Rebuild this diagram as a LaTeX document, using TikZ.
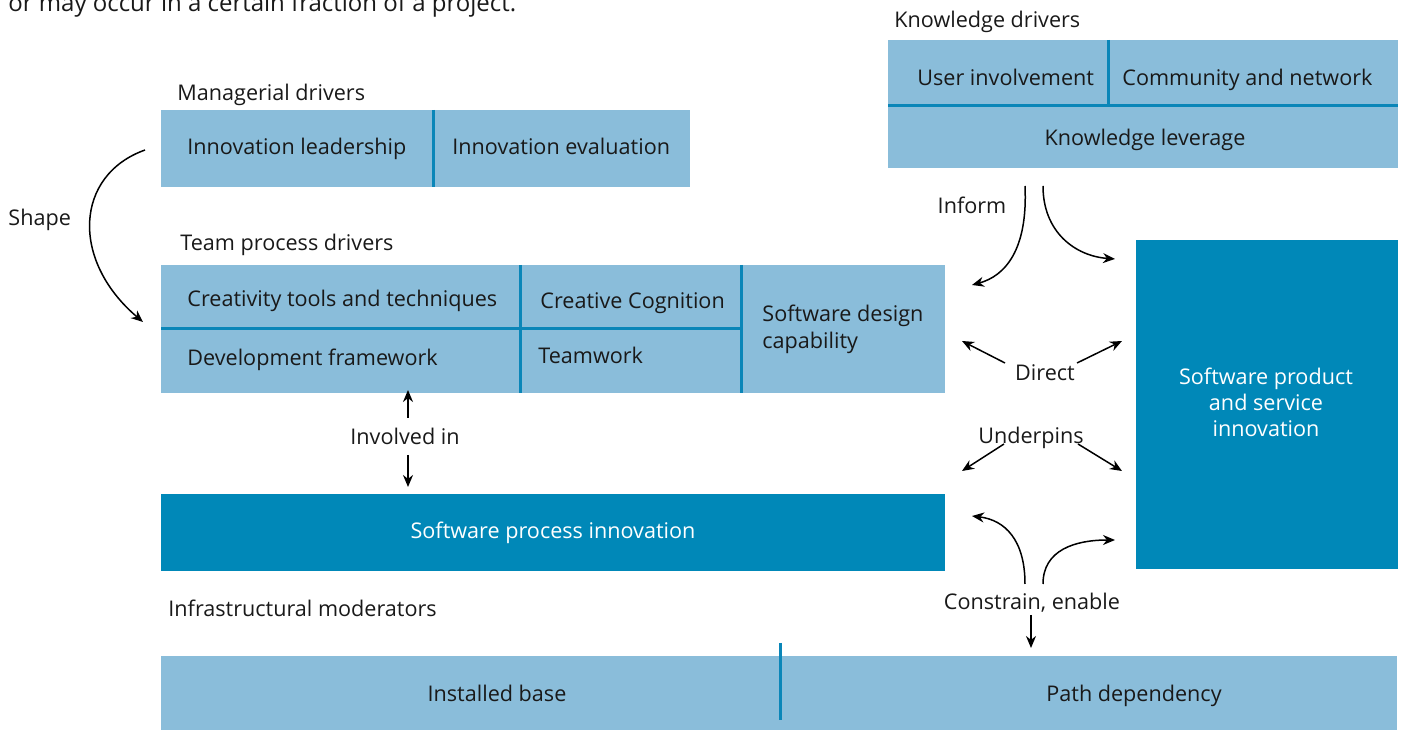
\documentclass[tikz,border=0pt]{standalone}
\usepackage{fontspec}
\setmainfont{Open Sans}
\usetikzlibrary{arrows.meta}
\definecolor{cellblue}{HTML}{8ABDDA}
\definecolor{deepblue}{HTML}{0088B8}
\definecolor{rule}{HTML}{0A86B8}

\begin{document}
\begin{tikzpicture}[x=0.5pt,y=-0.5pt,
  font=\fontsize{10.8}{13}\selectfont,
  panel/.style={fill=cellblue},
  darkpanel/.style={fill=deepblue},
  divider/.style={draw=rule,line width=1.5pt},
  textline/.style={inner sep=0pt,text height=7.7pt,text depth=0pt},
  txt/.style={textline,anchor=west,text=black!90},
  ctxt/.style={textline,text=black!90},
  wtxt/.style={textline,text=white,align=center},
  link/.style={line width=0.75pt,-{Stealth[length=6pt,width=5pt]}}]

\useasboundingbox (0,0) rectangle (1405,731);

% running text of the page above
\node[inner sep=0pt,anchor=base west,text=black!90,font=\fontsize{12}{14}\selectfont] (caption) at (8,12) {or may occur in a certain fraction of a project.};

% ---- Knowledge drivers ----
\node[txt] (kdlabel) at (894,20) {Knowledge drivers};
\path[panel] (888,40) rectangle (1398,168);
\draw[divider] (888,106) -- (1398,106);
\draw[divider] (1108,40) -- (1108,106);
\node[txt] (user) at (917,78) {User involvement};
\node[txt] (community) at (1122,78) {Community and network};
\node[ctxt] (leverage) at (1145,138) {Knowledge leverage};

% ---- Managerial drivers ----
\node[txt] (mdlabel) at (177,93) {Managerial drivers};
\path[panel] (161,110) rectangle (690,187);
\draw[divider] (433,110) -- (433,187);
\node[txt] (leadership) at (187,147) {Innovation leadership};
\node[txt] (evaluation) at (452,147) {Innovation evaluation};

% ---- Team process drivers ----
\node[txt] (tplabel) at (180,243) {Team process drivers};
\path[panel] (161,265) rectangle (945,393);
\draw[divider] (161,329) -- (741,329);
\draw[divider] (520,265) -- (520,393);
\draw[divider] (741,265) -- (741,393);
\node[txt] (creativity) at (187,299) {Creativity tools and techniques};
\node[txt] (cognition) at (540,301) {Creative Cognition};
\node[txt,align=left,text height=21.2pt,
      font=\fontsize{10.8}{13.5}\selectfont] (design) at (762,327.5) {Software design\\capability};
\node[txt] (framework) at (187,358) {Development framework};
\node[txt] (teamwork) at (538,356) {Teamwork};

% ---- Outcomes ----
\path[darkpanel] (161,494) rectangle (945,571);
\node[wtxt] (process) at (553,531) {Software process innovation};
\path[darkpanel] (1136,240) rectangle (1398,569);
\node[wtxt,text height=33.7pt] (product) at (1266,403) {Software product\\and service\\innovation};

% ---- Infrastructural moderators ----
\node[txt] (imlabel) at (168,609) {Infrastructural moderators};
\path[panel] (161,656) rectangle (1397,730);
\draw[divider] (780,643) -- (780,720);
\node[ctxt] (installed) at (497,694) {Installed base};
\node[ctxt] (path) at (1134,694) {Path dependency};

% ---- relation labels ----
\node[txt] (shape) at (8,218) {Shape};
\node[ctxt] (inform) at (972,206) {Inform};
\node[ctxt] (direct) at (1045,373) {Direct};
\node[ctxt] (underpins) at (1031,436) {Underpins};
\node[ctxt] (involved) at (405,437) {Involved in};
\node[ctxt] (constrain) at (1032,602) {Constrain, enable};

% ---- connector end points ----
\coordinate (shapeA) at (145,150);
\coordinate (shapeB) at (143,322);
\coordinate (infA) at (1025,186);
\coordinate (infB) at (972,285);
\coordinate (infC) at (1043,186);
\coordinate (infD) at (1115,259);
\coordinate (dirA) at (1005,363);
\coordinate (dirB) at (962,341);
\coordinate (dirC) at (1077,363);
\coordinate (dirD) at (1122,341);
\coordinate (undA) at (1004,444);
\coordinate (undB) at (962,471);
\coordinate (undC) at (1078,444);
\coordinate (undD) at (1122,471);
\coordinate (invA) at (408,418);
\coordinate (invB) at (408,390);
\coordinate (invC) at (408,455);
\coordinate (invD) at (408,487);
\coordinate (conA) at (1025,584);
\coordinate (conB) at (972,516);
\coordinate (conC) at (1043,584);
\coordinate (conD) at (1115,540);
\coordinate (conE) at (1031,615);
\coordinate (conF) at (1031,648);

% ---- connectors ----
\draw[link] (shapeA) .. controls (75,175) and (70,260) .. (shapeB);
\draw[link] (infA) .. controls (1028,250) and (1005,276) .. (infB);
\draw[link] (infC) .. controls (1043,232) and (1075,256) .. (infD);
\draw[link] (dirA) -- (dirB);
\draw[link] (dirC) -- (dirD);
\draw[link] (undA) -- (undB);
\draw[link] (undC) -- (undD);
\draw[link] (invA) -- (invB);
\draw[link] (invC) -- (invD);
\draw[link] (conA) .. controls (1025,540) and (1005,520) .. (conB);
\draw[link] (conC) .. controls (1043,550) and (1075,540) .. (conD);
\draw[link] (conE) -- (conF);
\end{tikzpicture}
\end{document}
